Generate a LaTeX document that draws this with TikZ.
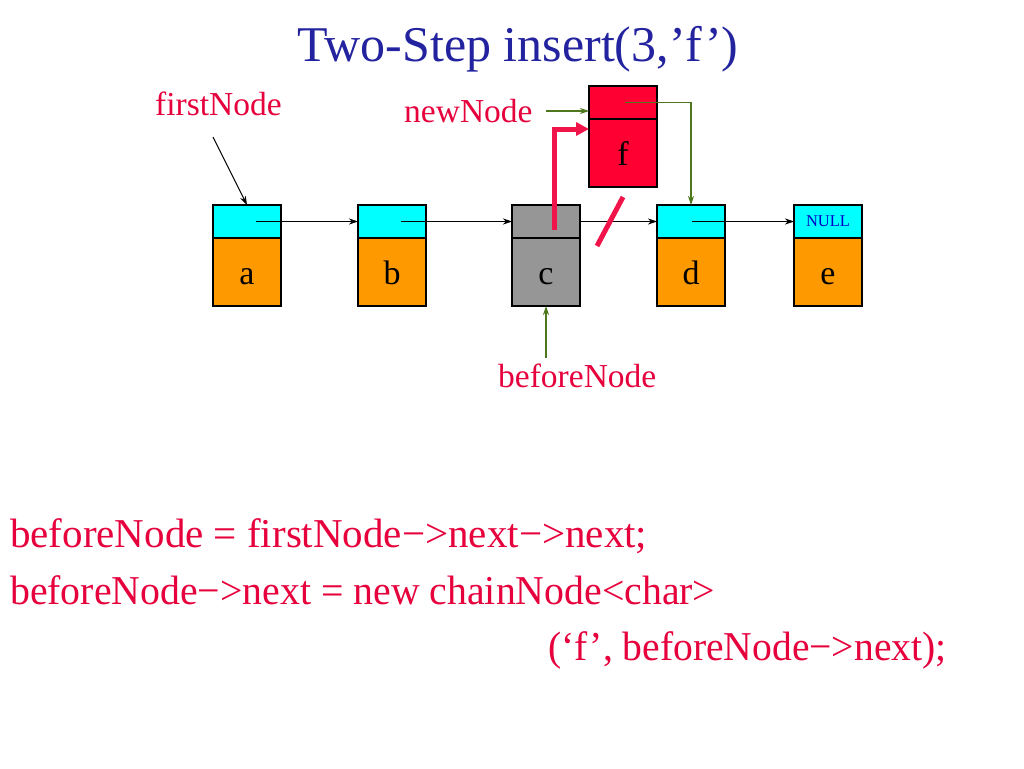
\documentclass[tikz,border=0pt]{standalone}
\usepackage{fontspec}
\setmainfont{Liberation Serif}
\usetikzlibrary{arrows.meta,calc}
\definecolor{titleblue}{RGB}{35,35,160}
\definecolor{txtred}{RGB}{230,0,60}
\definecolor{fred}{RGB}{255,0,51}
\definecolor{thickred}{RGB}{240,20,75}
\definecolor{grn}{RGB}{77,120,30}
\definecolor{grayfill}{RGB}{150,150,150}
\definecolor{orng}{RGB}{255,153,0}
\definecolor{cyn}{RGB}{0,255,255}
\definecolor{nullblue}{RGB}{0,0,200}
\tikzset{
  box/.style={draw=black, line width=1.3pt, inner sep=0pt, outer sep=0pt, minimum width=68pt, anchor=north west},
  ptrpart/.style={box, minimum height=33pt},
  datapart/.style={box, minimum height=68pt, font=\fontsize{34}{34}\selectfont, text height=24pt, text depth=0pt},
  lbl/.style={text=txtred, font=\fontsize{33.5}{34}\selectfont, anchor=base west, inner sep=0pt},
  code/.style={text=txtred, font=\fontsize{41}{42}\selectfont, anchor=base west, inner sep=0pt},
  blk/.style={-{Stealth[length=9pt,width=6pt]}, line width=1pt, black},
  grnarrow/.style={-{Stealth[length=9pt,width=6pt]}, line width=1.1pt, grn},
  redthick/.style={line width=5pt, thickred},
}
\begin{document}
\begin{tikzpicture}[x=1pt,y=-1pt]
\useasboundingbox (0,0) rectangle (1024,768);
% title
\node[text=titleblue, font=\fontsize{50}{52}\selectfont, anchor=base, inner sep=0pt] (title) at (518,62) {Two-Step insert(3,’f’)};
% boxes
\node[datapart, fill=orng] (aD) at (213,238) {a};
\node[ptrpart, fill=cyn] (aP) at (213,205) {};
\node[datapart, fill=orng] (bD) at (358,238) {b};
\node[ptrpart, fill=cyn] (bP) at (358,205) {};
\node[datapart, fill=grayfill] (cD) at (512,238) {c};
\node[ptrpart, fill=grayfill] (cP) at (512,205) {};
\node[datapart, fill=orng] (dD) at (657,238) {d};
\node[ptrpart, fill=cyn] (dP) at (657,205) {};
\node[datapart, fill=orng] (eD) at (794,238) {e};
\node[ptrpart, fill=cyn, text=nullblue, font=\fontsize{16.5}{17}\selectfont] (eP) at (794,205) {NULL};
\node[datapart, fill=fred] (fD) at (589,119) {f};
\node[ptrpart, fill=fred] (fP) at (589,86) {};
% labels
\node[lbl] (first) at (155,115) {firstNode};
\node[lbl] (newn) at (404,122) {newNode};
\node[lbl] (before) at (498,387) {beforeNode};
% code
\node[code] (code1) at (10,547) {beforeNode = firstNode−>next−>next;};
\node[code] (code2) at (10,604) {\scalebox{0.97}[1]{beforeNode−>next = new chainNode<char>}};
\node[code] (code3) at (548,660) {\scalebox{0.965}[1]{(‘f’, beforeNode−>next);}};
% coordinates
\coordinate (fs) at (213,137);
\coordinate (ns) at (546,111);
\coordinate (bs) at (546,358);
\coordinate (rs) at (554,230);
\coordinate (sl1) at (597,246);
\coordinate (sl2) at (623,197);
% chain arrows
\draw[blk] (fs) -- (aP.north);
\draw[blk] ([xshift=9pt]aP.center) -- (bP.west);
\draw[blk] ([xshift=9pt]bP.center) -- (cP.west);
\draw[blk] (cP.east) -- (dP.west);
\draw[blk] ([xshift=1pt]dP.center) -- (eP.west);
% green arrows
\draw[grnarrow] (ns) -- ([yshift=-8.5pt]fP.west);
\draw[grnarrow] ([xshift=2pt]fP.center) -| (dP.north);
\draw[grnarrow] (bs) -- (cD.south);
% red
\draw[redthick, -{Triangle[length=13pt,width=13pt]}] (rs) |- ([yshift=-10pt]fD.north west);
\draw[redthick] (sl1) -- (sl2);
\end{tikzpicture}
\end{document}
